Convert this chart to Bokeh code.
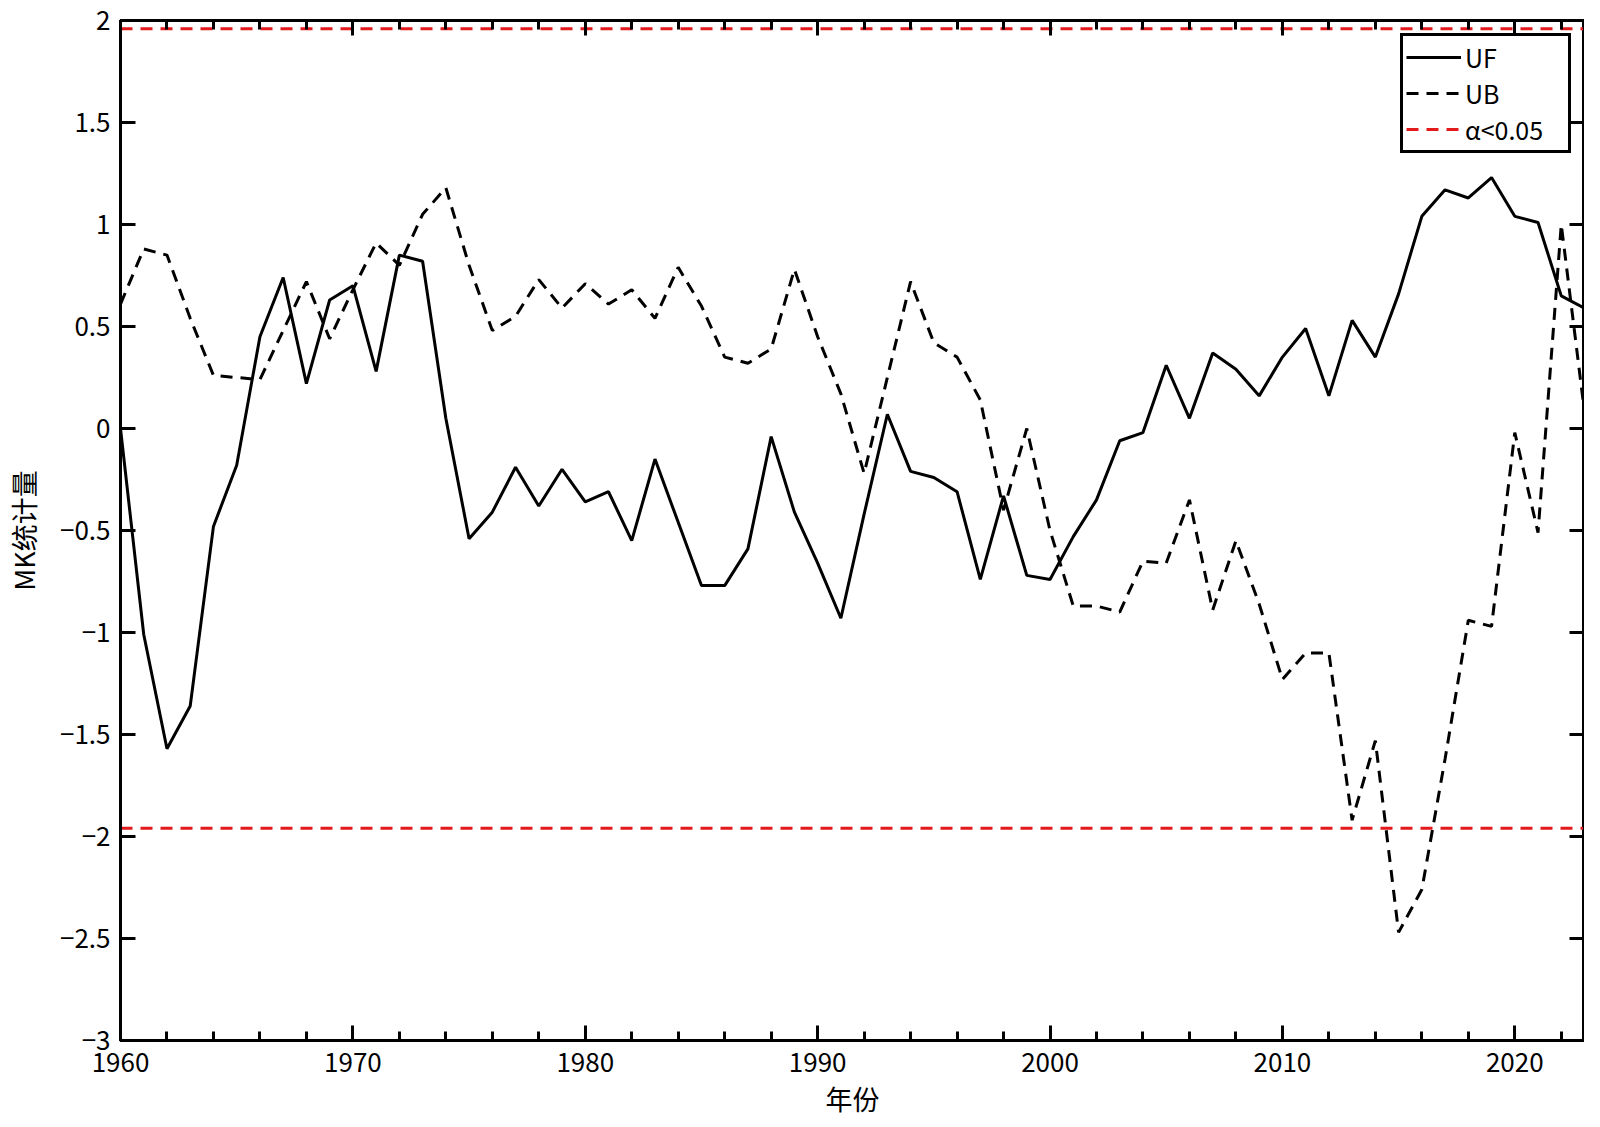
from bokeh.plotting import figure
from bokeh.models import (Range1d, LinearAxis, SingleIntervalTicker, FixedTicker,
                          CustomJSTickFormatter, Legend, LegendItem)
from bokeh.embed import file_html
from bokeh.resources import INLINE

years = list(range(1960, 2024))

uf = [0.00, -1.01, -1.57, -1.36, -0.48, -0.18, 0.45, 0.74, 0.22, 0.63,
      0.70, 0.28, 0.85, 0.82, 0.05, -0.54, -0.41, -0.19, -0.38, -0.20,
      -0.36, -0.31, -0.55, -0.15, -0.46, -0.77, -0.77, -0.59, -0.04, -0.41,
      -0.66, -0.93, -0.42, 0.07, -0.21, -0.24, -0.31, -0.74, -0.33, -0.72,
      -0.74, -0.53, -0.35, -0.06, -0.02, 0.31, 0.05, 0.37, 0.29, 0.16,
      0.35, 0.49, 0.16, 0.53, 0.35, 0.66, 1.04, 1.17, 1.13, 1.23,
      1.04, 1.01, 0.65, 0.59]

ub = [0.61, 0.88, 0.85, 0.54, 0.26, 0.25, 0.24, 0.48, 0.72, 0.44,
      0.68, 0.91, 0.80, 1.05, 1.18, 0.80, 0.48, 0.55, 0.73, 0.59,
      0.71, 0.61, 0.68, 0.54, 0.79, 0.60, 0.35, 0.32, 0.39, 0.78,
      0.45, 0.17, -0.22, 0.25, 0.72, 0.42, 0.35, 0.14, -0.40, 0.00,
      -0.50, -0.87, -0.87, -0.90, -0.65, -0.66, -0.35, -0.89, -0.55, -0.86,
      -1.23, -1.10, -1.10, -1.92, -1.53, -2.47, -2.26, -1.62, -0.94, -0.97,
      -0.02, -0.51, 1.00, 0.08]

crit_values = [1.96, -1.96]

y_ticks = [-3, -2.5, -2, -1.5, -1, -0.5, 0, 0.5, 1, 1.5, 2]
y_tick_labels = ["\u22123", "\u22122.5", "\u22122", "\u22121.5", "\u22121", "\u22120.5",
                 "0", "0.5", "1", "1.5", "2"]

series_labels = ["UF", "UB", "\u03b1<0.05"]
x_label = "年份"
y_label = "MK统计量"

FONT = "Noto Sans CJK SC"

p = figure(width=1584, height=1124, output_backend="svg", toolbar_location=None,
           x_range=Range1d(years[0], years[-1]), y_range=Range1d(y_ticks[0], y_ticks[-1]),
           min_border_left=111, min_border_top=20, min_border_right=0, min_border_bottom=84)
p.xgrid.visible = False
p.ygrid.visible = False
p.background_fill_color = "white"
p.border_fill_color = "white"
p.outline_line_color = "black"
p.outline_line_width = 3

r_uf = p.line(years, uf, line_color="black", line_width=3)
r_ub = p.line(years, ub, line_color="black", line_width=3, line_dash="12 8")
r_crit = [p.line([years[0], years[-1]], [c, c], line_color="#e3191c", line_width=3,
                 line_dash="12 8") for c in crit_values]

xt = SingleIntervalTicker(interval=10, num_minor_ticks=5)
yt = FixedTicker(ticks=y_ticks)

def style_axis(ax):
    ax.axis_line_color = "black"
    ax.axis_line_width = 3
    ax.major_tick_line_width = 3
    ax.minor_tick_line_width = 3
    ax.major_tick_in = 15
    ax.major_tick_out = 0
    ax.minor_tick_in = 9
    ax.minor_tick_out = 0
    ax.major_label_text_font = FONT
    ax.major_label_text_font_size = "26px"
    ax.major_label_text_color = "black"
    ax.axis_label_text_font = FONT
    ax.axis_label_text_font_size = "27px"
    ax.axis_label_text_font_style = "normal"
    ax.axis_label_text_color = "black"

xa = p.xaxis[0]
xa.ticker = xt
style_axis(xa)
xa.major_label_standoff = 12
xa.axis_label = x_label
xa.axis_label_standoff = 4

ya = p.yaxis[0]
ya.ticker = yt
style_axis(ya)
ya.minor_tick_line_color = None
ya.major_label_overrides = {t: s for t, s in zip(y_ticks, y_tick_labels)}
ya.major_label_standoff = 10
ya.axis_label = y_label
ya.axis_label_standoff = 14

blank = CustomJSTickFormatter(code="return ''")
top = LinearAxis(ticker=SingleIntervalTicker(interval=10, num_minor_ticks=5), formatter=blank)
style_axis(top)
top.major_label_standoff = 0
top.axis_label_standoff = 0
top.major_label_text_font_size = "0px"
p.add_layout(top, "above")
right = LinearAxis(ticker=FixedTicker(ticks=y_ticks), formatter=blank)
style_axis(right)
right.minor_tick_line_color = None
right.major_label_standoff = 0
right.axis_label_standoff = 0
right.major_label_text_font_size = "0px"
p.add_layout(right, "right")

legend = Legend(items=[LegendItem(label=series_labels[0], renderers=[r_uf]),
                       LegendItem(label=series_labels[1], renderers=[r_ub]),
                       LegendItem(label=series_labels[2], renderers=[r_crit[0]])],
                location="top_right")
legend.border_line_color = "black"
legend.border_line_alpha = 1
legend.border_line_width = 3
legend.background_fill_color = "white"
legend.background_fill_alpha = 1
legend.label_text_font = FONT
legend.label_text_font_size = "25px"
legend.label_text_color = "black"
legend.glyph_width = 55
legend.glyph_height = 30
legend.label_height = 30
legend.label_width = 100
legend.label_standoff = 4
legend.spacing = 0
legend.padding = 3
legend.margin = 13
p.add_layout(legend, "center")

open("out.html", "w").write(file_html(p, INLINE))
